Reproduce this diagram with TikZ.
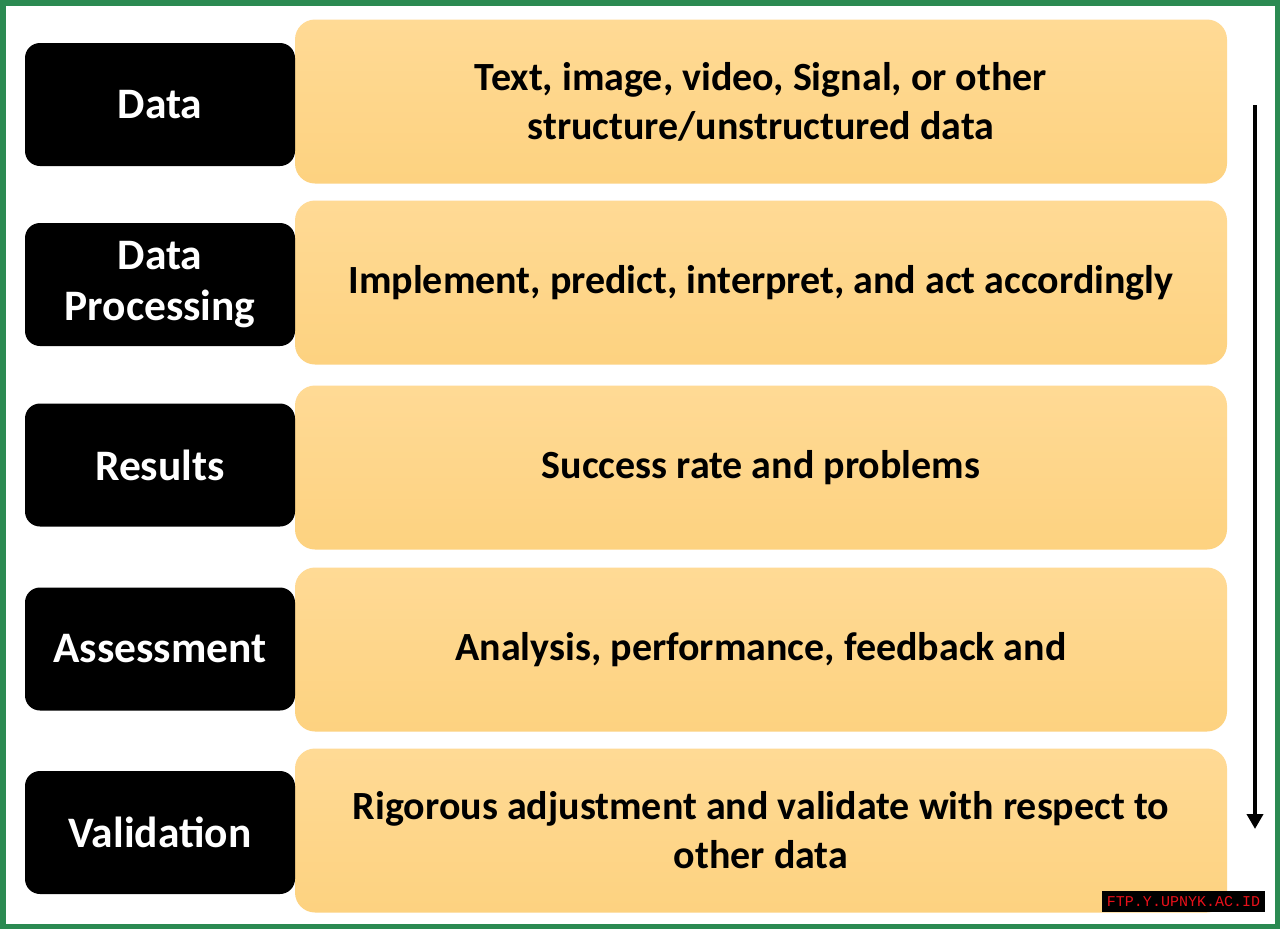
\documentclass[tikz,border=0pt]{standalone}
\usepackage{fontspec}
\setmainfont{Carlito}
\newfontfamily\wmfont{Liberation Mono}
\usetikzlibrary{arrows.meta}
\definecolor{frame}{HTML}{2B8A52}
\definecolor{boxtop}{HTML}{FFDA95}
\definecolor{boxbot}{HTML}{FDD280}
\definecolor{wmred}{HTML}{E8101A}
\tikzset{
  lab/.style={fill=black, rounded corners=15pt, minimum width=270pt, minimum height=123pt,
    text=white, font=\fontsize{43.5pt}{51pt}\selectfont\bfseries, align=center, inner sep=0pt},
  desc/.style={top color=boxtop, bottom color=boxbot, draw=none, rounded corners=20pt,
    minimum width=932pt, minimum height=164pt, text=black,
    font=\fontsize{40pt}{49pt}\selectfont\bfseries, align=center, inner sep=0pt},
  flow/.style={line width=4.5pt, -{Triangle[length=15pt,width=16pt]}},
}
\begin{document}
\begin{tikzpicture}[x=1pt,y=-1pt]
\useasboundingbox (0,0) rectangle (1280,929);
\fill[white] (0,0) rectangle (1280,929);
\draw[frame, line width=5.5pt] (2.75,2.75) rectangle (1277.25,926.25);
% description boxes
\node[desc] (d1) at (761,101.5) {Text, image, video, Signal, or other\\structure/unstructured data};
\node[desc] (d2) at (761,282.5) {Implement, predict, interpret, and act accordingly};
\node[desc] (d3) at (761,467.5) {Success rate and problems};
\node[desc] (d4) at (761,649.5) {Analysis, performance, feedback and};
\node[desc] (d5) at (761,830.5) {Rigorous adjustment and validate with respect to\\other data};
% label boxes
\node[lab] (l1) at (160,104.5) {Data};
\node[lab] (l2) at (160,284.5) {Data\\Processing};
\node[lab] (l3) at (160,465) {Results};
\node[lab] (l4) at (160,649) {Assessment};
\node[lab] (l5) at (160,832.5) {Validation};
% arrow
\coordinate (a1) at (1255,105);
\coordinate (a2) at (1255,829);
\draw[flow] (a1) -- (a2);
% watermark
\node[fill=black, text=wmred, font=\wmfont\fontsize{15pt}{15pt}\selectfont, minimum width=163pt, minimum height=21pt, inner sep=0pt] (wm) at (1183.5,901.5) {FTP.Y.UPNYK.AC.ID};
\end{tikzpicture}
\end{document}
